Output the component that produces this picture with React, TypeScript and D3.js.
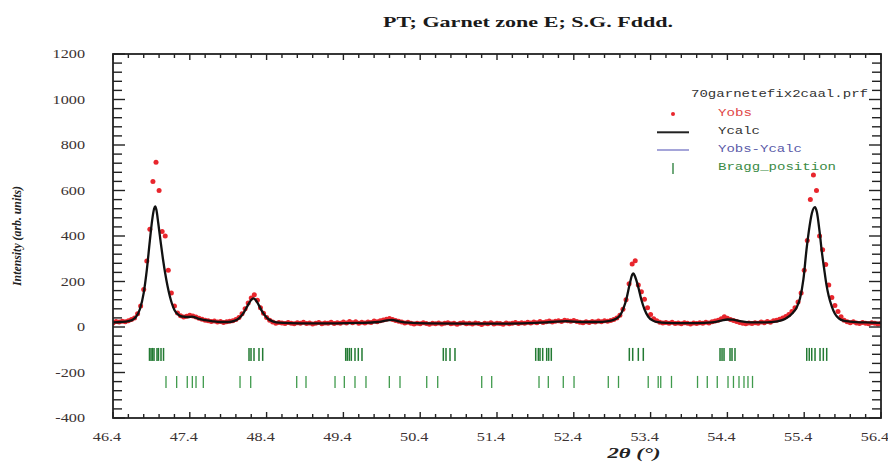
import React from "react";
import * as d3 from "d3";

// ---------- data ----------
const TITLE = "PT; Garnet zone E; S.G. Fddd.";
const X_TICKS = [46.4, 47.4, 48.4, 49.4, 50.4, 51.4, 52.4, 53.4, 54.4, 55.4, 56.4];
const Y_TICKS = [-400, -200, 0, 200, 400, 600, 800, 1000, 1200];
const LEGEND_FILE = "70garnetefix2caal.prf";
const LEGEND_LABELS = ["Yobs", "Ycalc", "Yobs-Ycalc", "Bragg_position"];

// observed intensities: start 46.40, step 0.04
const OBS_START = 46.4;
const OBS_STEP = 0.04;
const yObs = [
  18, 24, 22, 25, 23, 28, 33, 40, 58, 92, // 46.40
  165, 290, 430, 640, 724, 600, 420, 400, 250, 150, // 46.80
  92, 62, 50, 44, 47, 52, 48, 44, 38, 34, // 47.20
  30, 28, 24, 26, 22, 24, 20, 23, 25, 28, // 47.60
  33, 42, 58, 80, 105, 128, 142, 118, 85, 60, // 48.00
  42, 30, 22, 16, 20, 18, 15, 20, 17, 14, // 48.40
  19, 16, 21, 15, 18, 13, 17, 20, 14, 18, // 48.80
  16, 21, 15, 19, 17, 22, 18, 24, 19, 23, // 49.20
  17, 21, 18, 22, 20, 26, 23, 28, 31, 34, // 49.60
  37, 33, 29, 25, 22, 18, 21, 16, 13, 17, // 50.00
  14, 19, 15, 12, 17, 14, 18, 13, 16, 19, // 50.40
  14, 17, 12, 16, 19, 14, 17, 13, 18, 15, // 50.80
  11, 16, 14, 19, 13, 17, 15, 12, 18, 14, // 51.20
  17, 20, 15, 19, 17, 21, 18, 22, 19, 24, // 51.60
  20, 23, 26, 22, 25, 28, 24, 30, 27, 25, // 52.00
  29, 24, 21, 19, 23, 20, 24, 22, 26, 23, // 52.40
  27, 25, 29, 33, 40, 52, 78, 120, 190, 277, // 52.80
  291, 185, 155, 122, 85, 55, 36, 27, 21, 18, // 53.20
  20, 17, 21, 15, 18, 14, 19, 16, 13, 18, // 53.60
  15, 19, 17, 21, 18, 23, 26, 30, 36, 45, // 54.00
  38, 33, 29, 24, 20, 17, 14, 18, 15, 19, // 54.40
  17, 22, 19, 24, 21, 27, 30, 34, 40, 46, // 54.80
  55, 68, 85, 110, 150, 250, 380, 560, 668, 600, // 55.20
  400, 340, 275, 185, 130, 95, 68, 45, 30, 23, // 55.60
  19, 23, 18, 15, 20, 17, 14, 19, 16, 13, // 56.00
  17, // 56.40
];

// calculated profile (2theta, intensity)
const yCalc: [number, number][] = [
  [46.4, 20], [46.5, 22], [46.6, 26], [46.66, 33], [46.7, 45], [46.75, 78], [46.8, 150],
  [46.84, 250], [46.88, 380], [46.91, 470], [46.935, 520], [46.95, 530], [46.965, 515],
  [46.99, 455], [47.02, 375], [47.05, 300], [47.08, 235], [47.11, 180], [47.14, 135],
  [47.17, 100], [47.2, 75], [47.24, 57], [47.28, 48], [47.33, 45], [47.38, 44], [47.43, 46],
  [47.47, 42], [47.52, 36], [47.6, 30], [47.7, 25], [47.8, 22], [47.9, 22], [47.98, 27],
  [48.04, 38], [48.1, 62], [48.15, 92], [48.19, 115], [48.225, 126], [48.26, 118], [48.3, 95],
  [48.34, 70], [48.38, 50], [48.43, 33], [48.49, 24], [48.56, 19], [48.7, 17], [49.0, 16],
  [49.3, 16], [49.6, 18], [49.85, 22], [49.95, 28], [50.03, 31], [50.12, 25], [50.25, 19],
  [50.5, 16], [51.0, 15], [51.5, 15], [51.9, 18], [52.1, 22], [52.3, 26], [52.5, 22],
  [52.7, 22], [52.85, 26], [52.95, 36], [53.0, 50], [53.05, 85], [53.09, 130], [53.13, 192],
  [53.16, 230], [53.175, 236], [53.2, 220], [53.24, 175], [53.28, 120], [53.32, 78],
  [53.37, 45], [53.43, 28], [53.5, 21], [53.6, 18], [53.8, 17], [54.0, 17], [54.2, 20],
  [54.32, 28], [54.4, 33], [54.47, 32], [54.55, 27], [54.7, 20], [54.9, 20], [55.05, 25],
  [55.15, 35], [55.25, 62], [55.3, 85], [55.345, 125], [55.39, 210], [55.43, 340],
  [55.46, 420], [55.5, 500], [55.54, 527], [55.565, 505], [55.6, 420], [55.63, 330],
  [55.66, 255], [55.69, 185], [55.72, 135], [55.76, 90], [55.8, 58], [55.85, 38],
  [55.92, 27], [56.0, 24], [56.2, 20], [56.4, 18],
];

// Bragg positions, phase 1 (upper row) and phase 2 (lower row)
const bragg1 = [
  46.875, 46.895, 46.914, 46.934, 46.973, 46.992, 47.025, 47.058,
  48.171, 48.197, 48.236, 48.301, 48.349,
  49.43, 49.451, 49.477, 49.503, 49.551, 49.594, 49.642,
  50.701, 50.736, 50.788, 50.853,
  51.904, 51.938, 51.96, 51.995, 52.047, 52.073, 52.107,
  53.123, 53.167, 53.24, 53.305,
  54.304, 54.33, 54.356, 54.434, 54.46, 54.499,
  55.433, 55.466, 55.498, 55.541, 55.606, 55.649, 55.693,
];
const bragg2 = [
  47.09, 47.229, 47.367, 47.433, 47.481, 47.576,
  48.054, 48.193, 48.792, 48.913,
  49.291, 49.412, 49.551, 49.694, 49.998, 50.137, 50.485, 50.628,
  51.201, 51.331, 51.947, 52.068, 52.263, 52.403, 52.849, 52.982,
  53.369, 53.499, 53.532, 53.672, 54.011, 54.138, 54.268,
  54.408, 54.479, 54.551, 54.616, 54.668, 54.727,
];

// ---------- layout ----------
const W = 888;
const H = 463;
const L = 113, R = 881, T = 54, B = 418;
const SERIF = "'Liberation Serif', 'Times New Roman', serif";
const MONO = "'Liberation Mono', 'DejaVu Sans Mono', monospace";
const TXT = "#3b3232";
const RED = "#e8262d";
const GREEN1 = "#237a33";
const GREEN2 = "#3f9a4c";

export default function App() {
  const x = d3.scaleLinear().domain([46.4, 56.4]).range([L, R]);
  const y = d3.scaleLinear().domain([-400, 1200]).range([B, T]);

  const obsPts = yObs.map((v, i) => [OBS_START + i * OBS_STEP, v] as [number, number]);
  const line = d3
    .line<[number, number]>()
    .x((d) => x(d[0]))
    .y((d) => y(d[1]))
    .curve(d3.curveMonotoneX);

  const xMinor = d3.range(0, 51).map((i) => 46.4 + i * 0.2);
  const yMinor = d3.range(0, 41).map((i) => -400 + i * 40);

  const row1 = [y(-92), y(-149)];
  const row2 = [y(-215), y(-268)];

  return (
    <svg
      width={W}
      height={H}
      style={{ position: "absolute", left: 0, top: 0, display: "block", background: "#fff" }}
    >
      <defs>
        <clipPath id="plot">
          <rect x={L} y={T} width={R - L} height={B - T} />
        </clipPath>
      </defs>

      {/* title */}
      <text
        x={528}
        y={27}
        textAnchor="middle"
        fontFamily={SERIF}
        fontWeight="bold"
        fontSize={15}
        textLength={290}
        lengthAdjust="spacingAndGlyphs"
        fill="#1a1a1a"
      >
        {TITLE}
      </text>

      {/* data */}
      <g clipPath="url(#plot)">
        {obsPts.map((d, i) => (
          <circle key={i} cx={x(d[0])} cy={y(d[1])} r={2.5} fill={RED} />
        ))}
        <path d={line(yCalc) || ""} fill="none" stroke="#111" strokeWidth={2.3} />
        {bragg1.map((v, i) => (
          <line key={"a" + i} x1={x(v)} x2={x(v)} y1={row1[0]} y2={row1[1]} stroke={GREEN1} strokeWidth={1.5} />
        ))}
        {bragg2.map((v, i) => (
          <line key={"b" + i} x1={x(v)} x2={x(v)} y1={row2[0]} y2={row2[1]} stroke={GREEN2} strokeWidth={1.3} />
        ))}
      </g>

      {/* frame */}
      <rect x={L} y={T} width={R - L} height={B - T} fill="none" stroke="#222" strokeWidth={1.8} />

      {/* x ticks (bottom and top, inward) */}
      {xMinor.map((v, i) => {
        const major = i % 5 === 0;
        const len = major ? 6 : 4;
        return (
          <g key={"xt" + i} stroke="#222" strokeWidth={1.4}>
            <line x1={x(v)} x2={x(v)} y1={B} y2={B - len} />
            <line x1={x(v)} x2={x(v)} y1={T} y2={T + len} />
          </g>
        );
      })}
      {/* y ticks (left and right, inward) */}
      {yMinor.map((v, i) => {
        const major = i % 5 === 0;
        const len = major ? 12 : 9;
        return (
          <g key={"yt" + i} stroke="#222" strokeWidth={1.4}>
            <line x1={L} x2={L + len} y1={y(v)} y2={y(v)} />
            <line x1={R} x2={R - len} y1={y(v)} y2={y(v)} />
          </g>
        );
      })}

      {/* tick labels */}
      {X_TICKS.map((v) => (
        <text
          key={"xl" + v}
          transform={`translate(${x(v) - 6},${441}) scale(1.35,1)`}
          textAnchor="middle"
          fontFamily={SERIF}
          fontSize={12}
          fill={TXT}
        >
          {v.toFixed(1)}
        </text>
      ))}
      {Y_TICKS.map((v) => (
        <text
          key={"yl" + v}
          transform={`translate(${85},${y(v) + 4}) scale(1.35,1)`}
          textAnchor="end"
          fontFamily={SERIF}
          fontSize={12}
          fill={TXT}
        >
          {v}
        </text>
      ))}

      {/* axis titles */}
      <text
        x={634}
        y={458}
        textAnchor="middle"
        fontFamily={SERIF}
        fontWeight="bold"
        fontStyle="italic"
        fontSize={15}
        textLength={53}
        lengthAdjust="spacingAndGlyphs"
        fill="#222"
      >
        2θ (°)
      </text>
      <text
        transform="translate(21,236) rotate(-90)"
        textAnchor="middle"
        fontFamily={SERIF}
        fontWeight="bold"
        fontStyle="italic"
        fontSize={13}
        textLength={100}
        lengthAdjust="spacingAndGlyphs"
        fill="#222"
      >
        Intensity (arb. units)
      </text>

      {/* legend */}
      <g fontFamily={MONO} fontSize={11}>
        <text x={691} y={97} fill="#333" textLength={177} lengthAdjust="spacingAndGlyphs">
          {LEGEND_FILE}
        </text>
        <circle cx={673} cy={114} r={2} fill={RED} />
        <text x={718} y={116} fill="#e04545" textLength={34} lengthAdjust="spacingAndGlyphs">
          {LEGEND_LABELS[0]}
        </text>
        <line x1={657} x2={689} y1={132.3} y2={132.3} stroke="#222" strokeWidth={2} />
        <text x={718} y={134} fill="#333" textLength={42} lengthAdjust="spacingAndGlyphs">
          {LEGEND_LABELS[1]}
        </text>
        <line x1={657} x2={689} y1={150} y2={150} stroke="#6a6ac0" strokeWidth={1.2} />
        <text x={718} y={152} fill="#5a5aa8" textLength={84} lengthAdjust="spacingAndGlyphs">
          {LEGEND_LABELS[2]}
        </text>
        <line x1={673} x2={673} y1={163} y2={174} stroke={GREEN1} strokeWidth={1.3} />
        <text x={718} y={170} fill="#3a8a45" textLength={118} lengthAdjust="spacingAndGlyphs">
          {LEGEND_LABELS[3]}
        </text>
      </g>
    </svg>
  );
}
